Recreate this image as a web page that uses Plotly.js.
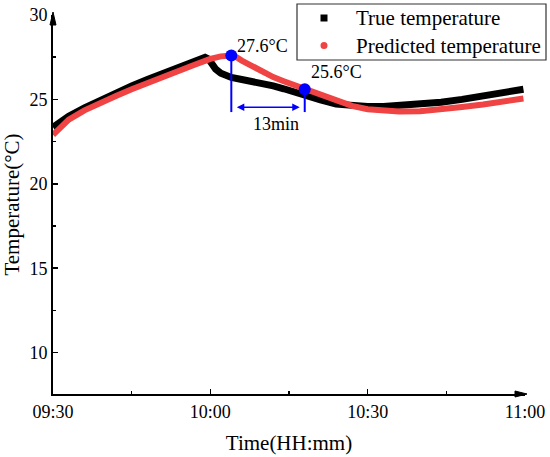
<!DOCTYPE html>
<html>
<head>
<meta charset="utf-8">
<script src="https://cdn.plot.ly/plotly-3.0.1.min.js"></script>
<style>
  html, body { margin: 0; padding: 0; background: #fff; }
  #chart { width: 550px; height: 457px; }
</style>
</head>
<body>
<div id="chart"></div>
<script>
// ---- data ----
const day = '2024-01-01 ';
const trueTimes = ['09:30:00','09:33:00','09:36:00','09:39:00','09:42:00','09:45:00','09:48:00','09:51:00',
  '09:54:00','09:57:00','09:58:00','09:59:00','09:59:40','10:00:20','10:01:00','10:02:00','10:03:00',
  '10:04:00','10:06:00','10:08:00','10:10:00','10:12:00','10:14:00','10:16:00','10:18:00','10:21:00',
  '10:24:00','10:27:00','10:30:00','10:33:00','10:36:00','10:40:00','10:44:00','10:48:00','10:52:00',
  '10:56:00','10:59:42'];
const trueTemp = [23.35,24.0,24.5,24.95,25.4,25.8,26.18,26.55,
  26.9,27.28,27.42,27.5,27.4,27.1,26.8,26.55,26.4,
  26.3,26.18,26.08,25.95,25.8,25.63,25.47,25.27,24.97,
  24.72,24.6,24.58,24.58,24.62,24.7,24.83,25.0,25.17,
  25.37,25.6];
const predTimes = ['09:30:00','09:31:30','09:33:00','09:36:00','09:39:00','09:42:00','09:45:00','09:48:00',
  '09:51:00','09:54:00','09:57:00','10:00:00','10:02:00','10:04:00','10:05:00','10:06:00','10:08:00',
  '10:10:00','10:12:00','10:14:00','10:16:00','10:18:00','10:21:00','10:24:00','10:27:00','10:30:00',
  '10:33:00','10:36:00','10:40:00','10:44:00','10:48:00','10:52:00','10:56:00','10:59:42'];
const predTemp = [22.9,23.4,23.8,24.35,24.8,25.2,25.6,25.98,
  26.33,26.68,27.05,27.4,27.55,27.6,27.5,27.3,26.95,
  26.6,26.32,26.08,25.85,25.6,25.25,24.93,24.62,24.42,
  24.32,24.28,24.3,24.4,24.55,24.7,24.87,25.05];
const markTimes = ['10:04:00', '10:18:00'];
const markTemps = [27.6, 25.6];
const markLabels = ['27.6°C', '25.6°C'];
const gapLabel = '13min';
const gapLevel = 24.54;   // height of the double arrow (°C)
const dropLevel = 24.25;  // bottom of the vertical guide lines (°C)
const legendNames = ['True temperature', 'Predicted temperature'];
const xTickVals = ['09:30:00','10:00:00','10:30:00','11:00:00'];
const xTickText = ['09:30','10:00','10:30','11:00'];
const yTickVals = [10, 15, 20, 25, 30];

const D = t => day + t;
const MX = markTimes.map(D);
const FONT = '"Liberation Serif", "Times New Roman", serif';
const RED = '#f04343';
const BLUE = '#0000ff';

const traces = [
  { x: trueTimes.map(D), y: trueTemp, mode: 'lines', name: legendNames[0],
    line: { color: '#000', width: 7 }, showlegend: false, hoverinfo: 'skip' },
  { x: predTimes.map(D), y: predTemp, mode: 'lines', name: legendNames[1],
    line: { color: RED, width: 6 }, showlegend: false, hoverinfo: 'skip' },
  { x: MX, y: markTemps, mode: 'markers', marker: { color: BLUE, size: 12 }, showlegend: false }
];

// geometry helpers (pixel -> paper)
const L = 53, R = 25, T = 15, B = 63, W = 550, H = 457;
const pw = W - L - R, ph = H - T - B;
const px = v => (v - L) / pw;
const py = v => (H - B - v) / ph;

const shapes = [
  // vertical guide lines
  { type: 'line', xref: 'x', yref: 'y', x0: MX[0], x1: MX[0], y0: markTemps[0], y1: dropLevel,
    line: { color: BLUE, width: 2 } },
  { type: 'line', xref: 'x', yref: 'y', x0: MX[1], x1: MX[1], y0: markTemps[1], y1: dropLevel,
    line: { color: BLUE, width: 2 } },
  // x-axis arrowhead
  { type: 'path', xref: 'paper', yref: 'paper',
    path: `M ${px(515)} ${py(391)} L ${px(527)} ${py(394)} L ${px(515)} ${py(397)} Z`,
    fillcolor: '#000', line: { color: '#000', width: 1 } },
  // y-axis arrowhead
  { type: 'path', xref: 'paper', yref: 'paper',
    path: `M ${px(50)} ${py(25)} L ${px(53)} ${py(12)} L ${px(56)} ${py(25)} Z`,
    fillcolor: '#000', line: { color: '#000', width: 1 } },
  // legend box and symbols
  { type: 'rect', xref: 'paper', yref: 'paper', x0: px(297), x1: px(546), y0: py(4), y1: py(60),
    fillcolor: '#fff', line: { color: '#333', width: 1.2 }, layer: 'above' },
  { type: 'rect', xref: 'paper', yref: 'paper', x0: px(320.5), x1: px(327.5), y0: py(14.5), y1: py(21.5),
    fillcolor: '#000', line: { width: 0 }, layer: 'above' },
  { type: 'circle', xref: 'paper', yref: 'paper', x0: px(320.5), x1: px(327.5), y0: py(42), y1: py(49),
    fillcolor: RED, line: { width: 0 }, layer: 'above' }
];

const annotations = [
  { x: MX[0], y: markTemps[0], xref: 'x', yref: 'y', text: markLabels[0], showarrow: false,
    xanchor: 'left', yanchor: 'middle', xshift: 4, yshift: 10,
    font: { family: FONT, size: 18, color: '#000' } },
  { x: MX[1], y: markTemps[1], xref: 'x', yref: 'y', text: markLabels[1], showarrow: false,
    xanchor: 'left', yanchor: 'middle', xshift: 4, yshift: 17,
    font: { family: FONT, size: 18, color: '#000' } },
  // double-headed arrow between the guide lines
  { x: MX[1], y: gapLevel, ax: MX[0], ay: gapLevel, xref: 'x', yref: 'y', axref: 'x', ayref: 'y',
    text: '', showarrow: true, arrowside: 'end+start', arrowhead: 2, startarrowhead: 2,
    arrowsize: 1, startarrowsize: 1, arrowwidth: 1.5, arrowcolor: BLUE, standoff: 5, startstandoff: 4 },
  { x: MX[0], y: gapLevel, xref: 'x', yref: 'y', text: gapLabel, showarrow: false,
    xanchor: 'center', yanchor: 'top', xshift: 45, yshift: -5,
    font: { family: FONT, size: 18, color: '#000' } },
  // legend texts
  { x: px(354), y: py(18), xref: 'paper', yref: 'paper', text: legendNames[0], showarrow: false,
    xanchor: 'left', yanchor: 'middle', font: { family: FONT, size: 21, color: '#000' } },
  { x: px(354), y: py(46), xref: 'paper', yref: 'paper', text: legendNames[1], showarrow: false,
    xanchor: 'left', yanchor: 'middle', font: { family: FONT, size: 21, color: '#000' } }
];

const layout = {
  width: W, height: H,
  margin: { l: L, r: R, t: T, b: B, autoexpand: false },
  paper_bgcolor: '#fff', plot_bgcolor: '#fff',
  font: { family: FONT, color: '#000', size: 18 },
  showlegend: false,
  xaxis: {
    type: 'date',
    range: [D('09:30:00'), D('11:00:00')],
    tickvals: xTickVals.map(D), ticktext: xTickText,
    ticks: 'inside', ticklen: 5, tickwidth: 1.5, tickcolor: '#000',
    minor: { ticks: 'inside', ticklen: 3, tickwidth: 1.5, tickcolor: '#000',
             dtick: 15 * 60 * 1000, tick0: D('09:30:00') },
    showline: true, linecolor: '#000', linewidth: 2, mirror: false,
    showgrid: false, zeroline: false,
    tickfont: { family: FONT, size: 18, color: '#000' },
    title: { text: 'Time(HH:mm)', font: { family: FONT, size: 21, color: '#000' }, standoff: 15 },
    fixedrange: true
  },
  yaxis: {
    range: [7.55, 30],
    tickvals: yTickVals,
    ticks: 'inside', ticklen: 5, tickwidth: 1.5, tickcolor: '#000',
    minor: { ticks: 'inside', ticklen: 3, tickwidth: 1.5, tickcolor: '#000', dtick: 2.5, tick0: 0 },
    showline: true, linecolor: '#000', linewidth: 2, mirror: false,
    showgrid: false, zeroline: false,
    tickfont: { family: FONT, size: 18, color: '#000' },
    title: { text: 'Temperature(°C)', font: { family: FONT, size: 21, color: '#000' }, standoff: 4 },
    fixedrange: true
  },
  shapes: shapes,
  annotations: annotations
};

Plotly.newPlot('chart', traces, layout, { displayModeBar: false, staticPlot: true });
</script>
</body>
</html>
